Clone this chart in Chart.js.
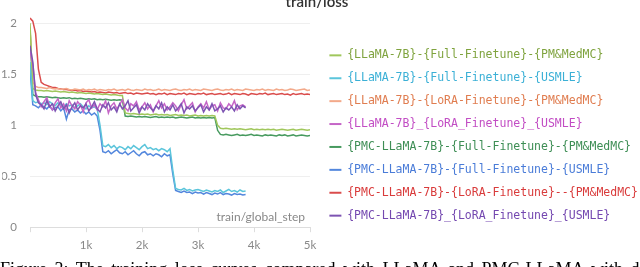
<!DOCTYPE html>
<html>
<head>
<meta charset="utf-8">
<script src="https://cdn.jsdelivr.net/npm/chart.js@4"></script>
<style>
  html, body { margin: 0; padding: 0; background: #fff; }
  body { width: 640px; height: 267px; overflow: hidden; position: relative; }
  #chart { position: absolute; left: 0; top: 0; }
  .title {
    position: absolute; left: 257px; top: -6px; width: 120px; text-align: center;
    font: 600 15px Lato, sans-serif; color: #333; line-height: 15px;
  }
  .caption {
    position: absolute; left: 0; top: 260px; white-space: nowrap;
    font: 18px "Liberation Serif", serif; color: #000; line-height: 18px; word-spacing: 3px;
  }
</style>
</head>
<body>
<canvas id="chart" width="640" height="267"></canvas>
<div class="title">train/loss</div>
<div class="caption">Figure 3: The training loss curves compared with LLaMA and PMC-LLaMA with different</div>
<script>
// series names
const seriesNames = [
    '{LLaMA-7B}-{Full-Finetune}-{PM&MedMC}',
    '{LLaMA-7B}-{Full-Finetune}-{USMLE}',
    '{LLaMA-7B}-{LoRA-Finetune}-{PM&MedMC}',
    '{LLaMA-7B}_{LoRA_Finetune}_{USMLE}',
    '{PMC-LLaMA-7B}-{Full-Finetune}-{PM&MedMC}',
    '{PMC-LLaMA-7B}-{Full-Finetune}-{USMLE}',
    '{PMC-LLaMA-7B}-{LoRA-Finetune}--{PM&MedMC}',
    '{PMC-LLaMA-7B}_{LoRA_Finetune}_{USMLE}'
];
const lineColors = ['#A0C75C', '#5BC5DB', '#F3A98A', '#C565C7', '#479A5F', '#5387DD', '#DA4C4C', '#7D54B2'];
const textColors = ['#7FA33E', '#3BB0D6', '#E07D50', '#C24DC4', '#3E8E55', '#4A7CD8', '#D93B3B', '#7448B0'];

// global step (x), every 50 steps
const steps = [
    0, 50, 100, 150, 200, 250, 300, 350, 400, 450,
    500, 550, 600, 650, 700, 750, 800, 850, 900, 950,
    1000, 1050, 1100, 1150, 1200, 1250, 1300, 1350, 1400, 1450,
    1500, 1550, 1600, 1650, 1700, 1750, 1800, 1850, 1900, 1950,
    2000, 2050, 2100, 2150, 2200, 2250, 2300, 2350, 2400, 2450,
    2500, 2550, 2600, 2650, 2700, 2750, 2800, 2850, 2900, 2950,
    3000, 3050, 3100, 3150, 3200, 3250, 3300, 3350, 3400, 3450,
    3500, 3550, 3600, 3650, 3700, 3750, 3800, 3850, 3900, 3950,
    4000, 4050, 4100, 4150, 4200, 4250, 4300, 4350, 4400, 4450,
    4500, 4550, 4600, 4650, 4700, 4750, 4800, 4850, 4900, 4950,
    5000
];

const llamaFullPm = [
    2.00, 1.36, 1.345, 1.34, 1.34, 1.335, 1.34, 1.335, 1.33, 1.335,
    1.33, 1.325, 1.33, 1.325, 1.32, 1.325, 1.32, 1.315, 1.32, 1.315,
    1.31, 1.315, 1.31, 1.305, 1.31, 1.305, 1.30, 1.305, 1.30, 1.295,
    1.30, 1.295, 1.29, 1.29,
    1.12, 1.115, 1.11, 1.115, 1.11, 1.105, 1.11, 1.105, 1.11, 1.10,
    1.105, 1.11, 1.10, 1.105, 1.10, 1.105, 1.095, 1.10, 1.105, 1.095,
    1.10, 1.095, 1.10, 1.09, 1.095, 1.10, 1.09, 1.095, 1.09, 1.095,
    1.09, 1.095, 1.09,
    1.00, 0.97, 0.965, 0.97, 0.965, 0.96, 0.965, 0.96, 0.965, 0.96,
    0.955, 0.96, 0.965, 0.955, 0.96, 0.955, 0.96, 0.955, 0.96, 0.955,
    0.96, 0.95, 0.955, 0.96, 0.955, 0.95, 0.955, 0.96, 0.95, 0.955,
    0.96, 0.955, 0.95, 0.955
];
const llamaFullUsmle = [
    1.62, 1.24, 1.22, 1.23, 1.21, 1.22, 1.20, 1.23, 1.21, 1.19,
    1.22, 1.20, 1.18, 1.21, 1.19, 1.20, 1.17, 1.19, 1.21, 1.18,
    1.16, 1.19, 1.17, 1.18, 1.16,
    1.00,
    0.80, 0.79, 0.81, 0.78, 0.80, 0.77, 0.79, 0.78, 0.76, 0.79,
    0.77, 0.80, 0.78, 0.76, 0.79, 0.81, 0.77, 0.78, 0.76, 0.77,
    0.75, 0.77, 0.76, 0.74, 0.77,
    0.56,
    0.38, 0.37, 0.365, 0.38, 0.36, 0.37, 0.355, 0.365, 0.37, 0.36,
    0.35, 0.365, 0.355, 0.345, 0.36, 0.35, 0.365, 0.34, 0.355, 0.37,
    0.35, 0.36, 0.345, 0.365, 0.35, 0.355
];
const llamaLoraPm = [
    1.96, 1.42, 1.38, 1.37, 1.37, 1.365, 1.36, 1.37, 1.36, 1.355,
    1.36, 1.35, 1.355, 1.36, 1.35, 1.345, 1.355, 1.35, 1.345, 1.355,
    1.34, 1.35, 1.345, 1.355, 1.34, 1.35, 1.345, 1.34, 1.35, 1.345,
    1.355, 1.34, 1.345, 1.35, 1.34, 1.355, 1.345, 1.34, 1.35, 1.345,
    1.34, 1.355, 1.345, 1.35, 1.34, 1.345, 1.355, 1.34, 1.35, 1.345,
    1.34, 1.35, 1.355, 1.345, 1.34, 1.35, 1.345, 1.355, 1.34, 1.35,
    1.345, 1.34, 1.355, 1.35, 1.345, 1.34, 1.35, 1.355, 1.345, 1.34,
    1.35, 1.345, 1.355, 1.34, 1.35, 1.345, 1.34, 1.355, 1.35, 1.345,
    1.34, 1.35, 1.345, 1.355, 1.34, 1.35, 1.345, 1.34, 1.355, 1.345,
    1.35, 1.34, 1.345, 1.355, 1.35, 1.34, 1.345, 1.35, 1.355, 1.34,
    1.345
];
const llamaLoraUsmle = [
    1.72, 1.60, 1.32, 1.25, 1.18, 1.23, 1.27, 1.19, 1.15, 1.22,
    1.26, 1.17, 1.21, 1.14, 1.24, 1.19, 1.16, 1.23, 1.20, 1.13,
    1.22, 1.25, 1.17, 1.20, 1.15, 1.21, 1.18, 1.24, 1.12, 1.19,
    1.22, 1.16, 1.20, 1.25, 1.17, 1.14, 1.21, 1.19, 1.23, 1.15,
    1.18, 1.22, 1.16, 1.20, 1.13, 1.19, 1.24, 1.17, 1.21, 1.15,
    1.18, 1.22, 1.19, 1.14, 1.20, 1.25, 1.16, 1.19, 1.22, 1.13,
    1.18, 1.21, 1.17, 1.23, 1.15, 1.19, 1.20, 1.14, 1.22, 1.17,
    1.16, 1.21, 1.18, 1.24, 1.15, 1.19, 1.20, 1.18
];
const pmcFullPm = [
    1.95, 1.30, 1.285, 1.28, 1.28, 1.275, 1.28, 1.275, 1.27, 1.275,
    1.27, 1.265, 1.27, 1.265, 1.27, 1.26, 1.265, 1.26, 1.265, 1.26,
    1.255, 1.26, 1.255, 1.26, 1.25, 1.255, 1.25, 1.255, 1.25, 1.245,
    1.25, 1.245, 1.25, 1.245,
    1.09, 1.085, 1.09, 1.085, 1.08, 1.085, 1.08, 1.085, 1.08, 1.075,
    1.08, 1.085, 1.075, 1.08, 1.075, 1.08, 1.075, 1.08, 1.07, 1.075,
    1.08, 1.075, 1.07, 1.075, 1.08, 1.07, 1.075, 1.07, 1.075, 1.07,
    1.075, 1.07, 1.075,
    0.95, 0.91, 0.905, 0.91, 0.905, 0.90, 0.905, 0.91, 0.90, 0.905,
    0.90, 0.905, 0.91, 0.90, 0.905, 0.90, 0.895, 0.905, 0.90, 0.905,
    0.90, 0.895, 0.905, 0.90, 0.905, 0.895, 0.90, 0.905, 0.895, 0.90,
    0.905, 0.90, 0.895, 0.90
];
const pmcFullUsmle = [
    1.55, 1.20, 1.19, 1.17, 1.20, 1.18, 1.16, 1.19, 1.15, 1.17,
    1.18, 1.14, 1.17, 1.06, 1.15, 1.16, 1.13, 1.15, 1.12, 1.14,
    1.11, 1.13, 1.10, 1.12, 1.09,
    0.95,
    0.74, 0.73, 0.75, 0.72, 0.74, 0.76, 0.73, 0.72, 0.74, 0.71,
    0.73, 0.75, 0.72, 0.70, 0.73, 0.74, 0.71, 0.72, 0.70, 0.72,
    0.71, 0.69, 0.72, 0.70, 0.71,
    0.52,
    0.36, 0.35, 0.34, 0.355, 0.34, 0.345, 0.33, 0.345, 0.335, 0.34,
    0.325, 0.34, 0.33, 0.32, 0.335, 0.325, 0.34, 0.32, 0.33, 0.325,
    0.315, 0.33, 0.32, 0.325, 0.315, 0.32
];
const pmcLoraPm = [
    2.05, 2.02, 1.90, 1.55, 1.42, 1.40, 1.39, 1.38, 1.37, 1.37,
    1.36, 1.355, 1.35, 1.35, 1.345, 1.34, 1.345, 1.335, 1.34, 1.33,
    1.335, 1.33, 1.325, 1.33, 1.32, 1.325, 1.32, 1.315, 1.325, 1.32,
    1.315, 1.32, 1.31, 1.315, 1.32, 1.31, 1.315, 1.305, 1.315, 1.31,
    1.305, 1.31, 1.315, 1.305, 1.31, 1.30, 1.31, 1.305, 1.315, 1.30,
    1.31, 1.305, 1.30, 1.31, 1.305, 1.315, 1.30, 1.31, 1.305, 1.30,
    1.31, 1.305, 1.315, 1.30, 1.305, 1.31, 1.30, 1.305, 1.31, 1.30,
    1.305, 1.315, 1.30, 1.31, 1.305, 1.30, 1.31, 1.305, 1.295, 1.31,
    1.305, 1.30, 1.31, 1.305, 1.315, 1.30, 1.305, 1.31, 1.30, 1.305,
    1.31, 1.30, 1.305, 1.295, 1.31, 1.30, 1.305, 1.31, 1.30, 1.305,
    1.30
];
const pmcLoraUsmle = [
    1.78, 1.62, 1.30, 1.22, 1.20, 1.16, 1.24, 1.18, 1.21, 1.14,
    1.19, 1.23, 1.16, 1.20, 1.12, 1.18, 1.22, 1.15, 1.19, 1.17,
    1.21, 1.14, 1.18, 1.23, 1.16, 1.13, 1.20, 1.17, 1.22, 1.15,
    1.18, 1.13, 1.21, 1.16, 1.19, 1.24, 1.14, 1.17, 1.20, 1.12,
    1.18, 1.15, 1.21, 1.17, 1.14, 1.19, 1.16, 1.22, 1.13, 1.18,
    1.15, 1.20, 1.14, 1.17, 1.21, 1.12, 1.18, 1.16, 1.19, 1.14,
    1.17, 1.20, 1.13, 1.18, 1.15, 1.21, 1.14, 1.16, 1.19, 1.13,
    1.17, 1.15, 1.18, 1.14, 1.20, 1.16, 1.19, 1.17
];

const seriesValues = [llamaFullPm, llamaFullUsmle, llamaLoraPm, llamaLoraUsmle,
    pmcFullPm, pmcFullUsmle, pmcLoraPm, pmcLoraUsmle];
const drawOrder = [3, 2, 3, 1, 3, 2, 3, 0];

const yTicks = [0, 0.5, 1, 1.5, 2];
const xTicks = [0, 1000, 2000, 3000, 4000, 5000];

const datasets = seriesValues.map((vals, i) => ({
    label: seriesNames[i],
    data: vals.map((v, j) => ({ x: steps[j], y: v })),
    borderColor: lineColors[i],
    backgroundColor: lineColors[i],
    borderWidth: 1.5,
    pointRadius: 0,
    tension: 0,
    order: drawOrder[i]
}));

// x axis title sits inside the plot, bottom right
const stepLabel = {
    id: 'stepLabel',
    afterDraw(chart) {
        const { ctx, chartArea } = chart;
        ctx.save();
        ctx.font = '12px Lato, sans-serif';
        ctx.fillStyle = '#888';
        ctx.textAlign = 'right';
        ctx.textBaseline = 'middle';
        ctx.fillText('train/global_step', chartArea.right - 5, chartArea.bottom - 10);
        ctx.restore();
    }
};

new Chart(document.getElementById('chart'), {
    type: 'line',
    data: { datasets: datasets },
    plugins: [stepLabel],
    options: {
        responsive: false,
        animation: false,
        devicePixelRatio: 1,
        layout: { padding: { left: 2, top: 13, right: 0, bottom: 9 } },
        plugins: {
            title: { display: false },
            tooltip: { enabled: false },
            legend: {
                position: 'right',
                align: 'center',
                maxWidth: 322,
                labels: {
                    boxWidth: 12,
                    boxHeight: 2,
                    padding: 11.4,
                    font: { family: 'DejaVu Sans Mono', size: 11.5 },
                    generateLabels(chart) {
                        return chart.data.datasets.map((d, i) => ({
                            text: d.label,
                            fillStyle: d.borderColor,
                            strokeStyle: d.borderColor,
                            lineWidth: 0,
                            fontColor: textColors[i],
                            hidden: false,
                            datasetIndex: i
                        }));
                    }
                }
            }
        },
        scales: {
            x: {
                type: 'linear',
                min: 0,
                max: 5000,
                afterBuildTicks(scale) { scale.ticks = xTicks.map(v => ({ value: v })); },
                grid: { display: true, drawOnChartArea: false, drawTicks: true, tickLength: 5, color: '#ddd' },
                border: { display: true, color: '#ddd' },
                ticks: {
                    autoSkip: false,
                    maxRotation: 0,
                    padding: 6,
                    color: '#888',
                    font: { family: 'Lato', size: 11.5 },
                    callback: v => v === 0 ? '' : (v / 1000) + 'k'
                }
            },
            y: {
                min: 0,
                max: 2.1,
                afterBuildTicks(scale) { scale.ticks = yTicks.map(v => ({ value: v })); },
                afterFit(scale) {
                    scale.width = 28;
                    scale.paddingTop = 0;
                    scale.paddingBottom = 0;
                },
                grid: { color: '#efefef', drawTicks: false },
                border: { display: false },
                ticks: {
                    padding: 13,
                    color: '#888',
                    font: { family: 'Lato', size: 11.5 },
                    callback: v => String(v)
                }
            },
            // empty spacer between the plot and the legend
            gap: {
                type: 'linear',
                position: 'right',
                grid: { display: false },
                border: { display: false },
                ticks: { display: false },
                afterFit(scale) { scale.width = 8; }
            }
        }
    }
});
</script>
</body>
</html>
